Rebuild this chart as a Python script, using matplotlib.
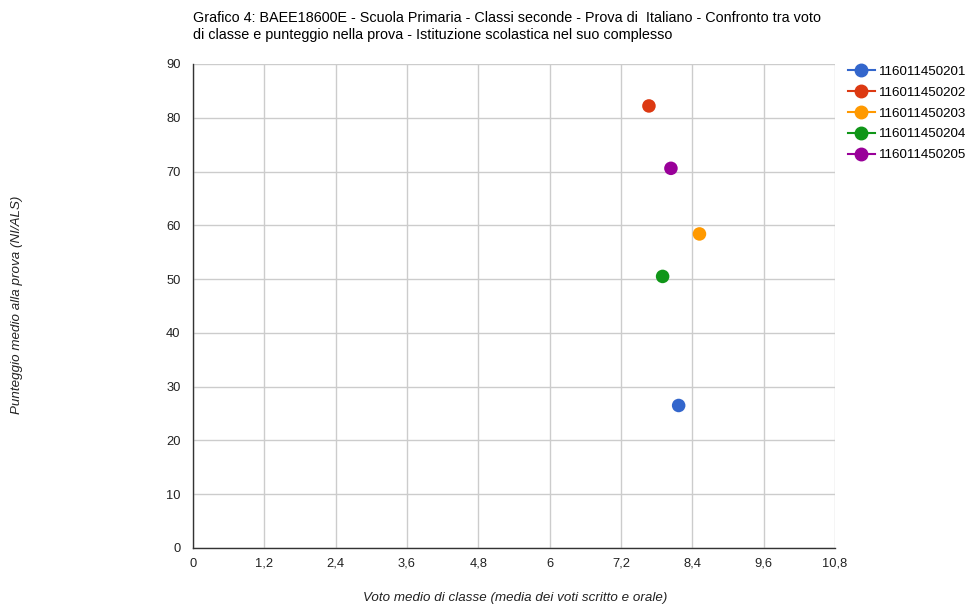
import matplotlib
matplotlib.use("Agg")
import matplotlib.pyplot as plt
from matplotlib.lines import Line2D

plt.rcParams['font.family'] = ['Liberation Sans', 'DejaVu Sans']

series_names = ["116011450201", "116011450202", "116011450203", "116011450204", "116011450205"]
x_values = [8.17, 7.67, 8.52, 7.90, 8.04]
y_values = [26.5, 82.2, 58.4, 50.5, 70.6]
colors = ["#3366cc", "#dc3912", "#ff9900", "#109618", "#990099"]

x_ticks = [0, 1.2, 2.4, 3.6, 4.8, 6, 7.2, 8.4, 9.6, 10.8]
x_tick_labels = ["0", "1,2", "2,4", "3,6", "4,8", "6", "7,2", "8,4", "9,6", "10,8"]
y_ticks = [0, 10, 20, 30, 40, 50, 60, 70, 80, 90]
y_tick_labels = [str(v) for v in y_ticks]

title = ("Grafico 4: BAEE18600E - Scuola Primaria - Classi seconde - Prova di  Italiano - Confronto tra voto\n"
         "di classe e punteggio nella prova - Istituzione scolastica nel suo complesso")
x_label = "Voto medio di classe (media dei voti scritto e orale)"
y_label = "Punteggio medio alla prova (NI/ALS)"

fig = plt.figure(figsize=(9.67, 6.08), dpi=100)
ax = fig.add_axes([193/967, 1-548/608, (835-193)/967, (548-64)/608])

for xv, yv, c in zip(x_values, y_values, colors):
    ax.scatter([xv], [yv], s=95, color=c, edgecolors='none', zorder=3)

ax.set_xlim(0, 10.8)
ax.set_ylim(0, 90)
ax.set_xticks(x_ticks)
ax.set_xticklabels(x_tick_labels)
ax.set_yticks(y_ticks)
ax.set_yticklabels(y_tick_labels)
ax.tick_params(axis='both', length=0, labelsize=9.3, colors='#222222')
ax.tick_params(axis='x', pad=13.5)
ax.tick_params(axis='y', pad=9)
for lbl in ax.get_xticklabels():
    lbl.set_verticalalignment('baseline')
ax.grid(True, color='#cccccc', linewidth=1)
ax.set_axisbelow(True)
for s in ['top', 'right']:
    ax.spines[s].set_visible(False)
for s in ['left', 'bottom']:
    ax.spines[s].set_color('#333333')
    ax.spines[s].set_linewidth(1)

fig.text(193/967, 1-11/608, title, ha='left', va='top', fontsize=10.4, color='#000000', linespacing=1.25)
fig.text(515/967, 1-598/608, x_label, ha='center', va='center', fontsize=9.6, style='italic', color='#222222')
fig.text(17/967, 1-305/608, y_label, ha='center', va='center', fontsize=9.6, style='italic', rotation=90, color='#222222')

handles = [Line2D([0], [0], color=c, marker='o', markersize=9, linewidth=1.5) for c in colors]
fig.legend(handles, series_names, loc='upper left', bbox_to_anchor=(848/967, 1-65.5/608),
           frameon=False, fontsize=9.6, handlelength=2.0, handletextpad=0.3,
           labelspacing=0.64, borderaxespad=0, borderpad=0)

fig.savefig("out.png", dpi=100)
